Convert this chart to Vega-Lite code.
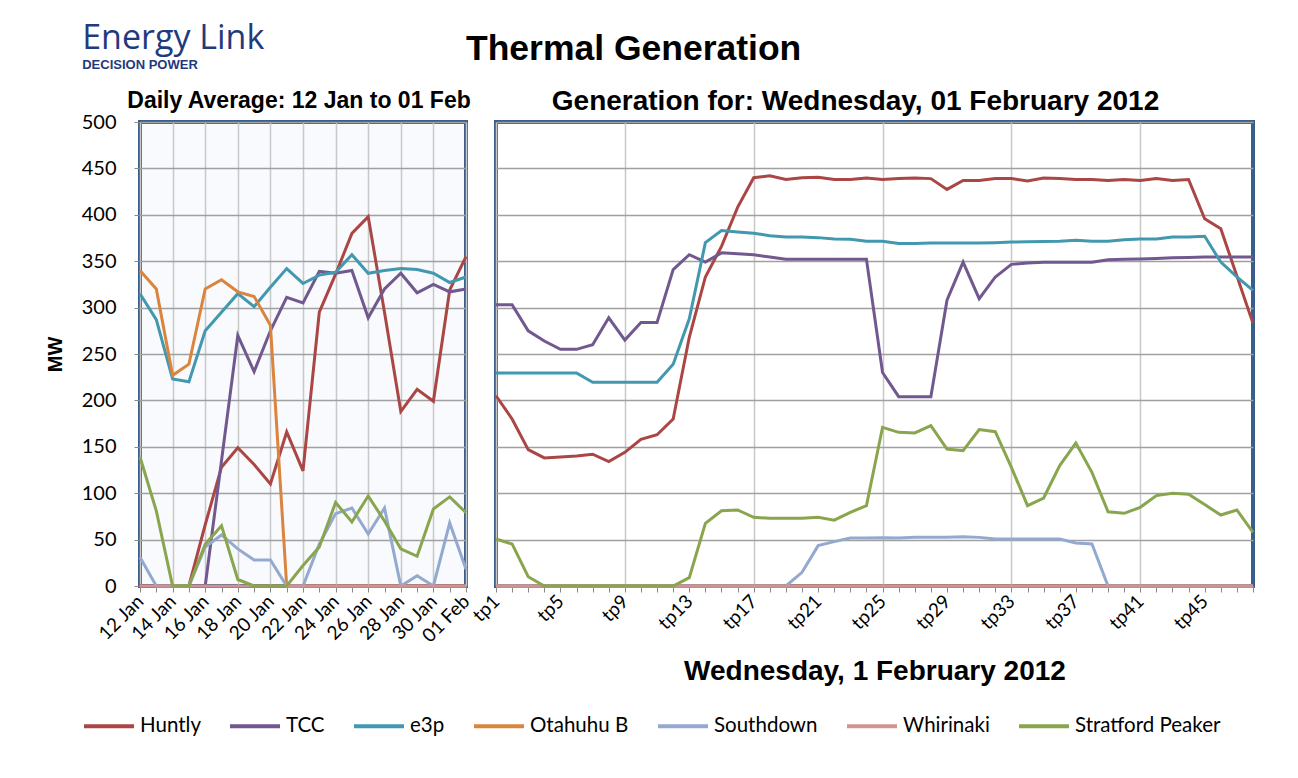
{
  "$schema": "https://vega.github.io/schema/vega-lite/v6.json",
  "background": "white",
  "padding": {"left": 43, "top": 21, "right": 30, "bottom": 10},
  "datasets": {
    "daily": [
      {"day": "12 Jan", "Huntly": 0, "TCC": 0, "e3p": 315, "Otahuhu B": 340, "Southdown": 31, "Whirinaki": 0, "Stratford Peaker": 139},
      {"day": "13 Jan", "Huntly": 0, "TCC": 0, "e3p": 287, "Otahuhu B": 320, "Southdown": 0, "Whirinaki": 0, "Stratford Peaker": 81},
      {"day": "14 Jan", "Huntly": 0, "TCC": 0, "e3p": 223, "Otahuhu B": 227, "Southdown": 0, "Whirinaki": 0, "Stratford Peaker": 0},
      {"day": "15 Jan", "Huntly": 0, "TCC": 0, "e3p": 220, "Otahuhu B": 239, "Southdown": 0, "Whirinaki": 0, "Stratford Peaker": 0},
      {"day": "16 Jan", "Huntly": 66, "TCC": 0, "e3p": 275, "Otahuhu B": 320, "Southdown": 42, "Whirinaki": 0, "Stratford Peaker": 45},
      {"day": "17 Jan", "Huntly": 128, "TCC": 135, "e3p": 295, "Otahuhu B": 330, "Southdown": 55, "Whirinaki": 0, "Stratford Peaker": 65},
      {"day": "18 Jan", "Huntly": 149, "TCC": 270, "e3p": 315, "Otahuhu B": 317, "Southdown": 40, "Whirinaki": 0, "Stratford Peaker": 7},
      {"day": "19 Jan", "Huntly": 131, "TCC": 231, "e3p": 301, "Otahuhu B": 312, "Southdown": 28, "Whirinaki": 0, "Stratford Peaker": 0},
      {"day": "20 Jan", "Huntly": 110, "TCC": 275, "e3p": 322, "Otahuhu B": 281, "Southdown": 28, "Whirinaki": 0, "Stratford Peaker": 0},
      {"day": "21 Jan", "Huntly": 166, "TCC": 311, "e3p": 342, "Otahuhu B": 0, "Southdown": 0, "Whirinaki": 0, "Stratford Peaker": 0},
      {"day": "22 Jan", "Huntly": 124, "TCC": 305, "e3p": 326, "Otahuhu B": 0, "Southdown": 0, "Whirinaki": 0, "Stratford Peaker": 22},
      {"day": "23 Jan", "Huntly": 295, "TCC": 339, "e3p": 335, "Otahuhu B": 0, "Southdown": 45, "Whirinaki": 0, "Stratford Peaker": 42},
      {"day": "24 Jan", "Huntly": 336, "TCC": 337, "e3p": 338, "Otahuhu B": 0, "Southdown": 78, "Whirinaki": 0, "Stratford Peaker": 90},
      {"day": "25 Jan", "Huntly": 380, "TCC": 340, "e3p": 357, "Otahuhu B": 0, "Southdown": 84, "Whirinaki": 0, "Stratford Peaker": 69},
      {"day": "26 Jan", "Huntly": 398, "TCC": 289, "e3p": 337, "Otahuhu B": 0, "Southdown": 56, "Whirinaki": 0, "Stratford Peaker": 97},
      {"day": "27 Jan", "Huntly": 295, "TCC": 320, "e3p": 340, "Otahuhu B": 0, "Southdown": 84, "Whirinaki": 0, "Stratford Peaker": 70},
      {"day": "28 Jan", "Huntly": 188, "TCC": 337, "e3p": 342, "Otahuhu B": 0, "Southdown": 0, "Whirinaki": 0, "Stratford Peaker": 40},
      {"day": "29 Jan", "Huntly": 212, "TCC": 316, "e3p": 341, "Otahuhu B": 0, "Southdown": 11, "Whirinaki": 0, "Stratford Peaker": 32},
      {"day": "30 Jan", "Huntly": 199, "TCC": 325, "e3p": 337, "Otahuhu B": 0, "Southdown": 0, "Whirinaki": 0, "Stratford Peaker": 83},
      {"day": "31 Jan", "Huntly": 319, "TCC": 317, "e3p": 327, "Otahuhu B": 0, "Southdown": 68, "Whirinaki": 0, "Stratford Peaker": 96},
      {"day": "01 Feb", "Huntly": 355, "TCC": 320, "e3p": 333, "Otahuhu B": 0, "Southdown": 18, "Whirinaki": 0, "Stratford Peaker": 79}
    ],
    "halfhour": [
      {"tp": 1, "Huntly": 205, "TCC": 303, "e3p": 229.5, "Otahuhu B": 0, "Southdown": 0, "Whirinaki": 0, "Stratford Peaker": 50.6},
      {"tp": 2, "Huntly": 180, "TCC": 303, "e3p": 229.5, "Otahuhu B": 0, "Southdown": 0, "Whirinaki": 0, "Stratford Peaker": 45.3},
      {"tp": 3, "Huntly": 147, "TCC": 275, "e3p": 229.5, "Otahuhu B": 0, "Southdown": 0, "Whirinaki": 0, "Stratford Peaker": 10},
      {"tp": 4, "Huntly": 138, "TCC": 264, "e3p": 229.5, "Otahuhu B": 0, "Southdown": 0, "Whirinaki": 0, "Stratford Peaker": 0},
      {"tp": 5, "Huntly": 139, "TCC": 255, "e3p": 229.5, "Otahuhu B": 0, "Southdown": 0, "Whirinaki": 0, "Stratford Peaker": 0},
      {"tp": 6, "Huntly": 140, "TCC": 255, "e3p": 229.5, "Otahuhu B": 0, "Southdown": 0, "Whirinaki": 0, "Stratford Peaker": 0},
      {"tp": 7, "Huntly": 142, "TCC": 260, "e3p": 219.5, "Otahuhu B": 0, "Southdown": 0, "Whirinaki": 0, "Stratford Peaker": 0},
      {"tp": 8, "Huntly": 134, "TCC": 289, "e3p": 219.5, "Otahuhu B": 0, "Southdown": 0, "Whirinaki": 0, "Stratford Peaker": 0},
      {"tp": 9, "Huntly": 144, "TCC": 265, "e3p": 219.5, "Otahuhu B": 0, "Southdown": 0, "Whirinaki": 0, "Stratford Peaker": 0},
      {"tp": 10, "Huntly": 158, "TCC": 284, "e3p": 219.5, "Otahuhu B": 0, "Southdown": 0, "Whirinaki": 0, "Stratford Peaker": 0},
      {"tp": 11, "Huntly": 163, "TCC": 284, "e3p": 219.5, "Otahuhu B": 0, "Southdown": 0, "Whirinaki": 0, "Stratford Peaker": 0},
      {"tp": 12, "Huntly": 180, "TCC": 341, "e3p": 239, "Otahuhu B": 0, "Southdown": 0, "Whirinaki": 0, "Stratford Peaker": 0},
      {"tp": 13, "Huntly": 268, "TCC": 357, "e3p": 288, "Otahuhu B": 0, "Southdown": 0, "Whirinaki": 0, "Stratford Peaker": 9},
      {"tp": 14, "Huntly": 333, "TCC": 349, "e3p": 370, "Otahuhu B": 0, "Southdown": 0, "Whirinaki": 0, "Stratford Peaker": 67.5},
      {"tp": 15, "Huntly": 366, "TCC": 359, "e3p": 383, "Otahuhu B": 0, "Southdown": 0, "Whirinaki": 0, "Stratford Peaker": 81},
      {"tp": 16, "Huntly": 408, "TCC": 358, "e3p": 381.5, "Otahuhu B": 0, "Southdown": 0, "Whirinaki": 0, "Stratford Peaker": 82},
      {"tp": 17, "Huntly": 440, "TCC": 357, "e3p": 380, "Otahuhu B": 0, "Southdown": 0, "Whirinaki": 0, "Stratford Peaker": 74},
      {"tp": 18, "Huntly": 442, "TCC": 354.5, "e3p": 377.5, "Otahuhu B": 0, "Southdown": 0, "Whirinaki": 0, "Stratford Peaker": 73},
      {"tp": 19, "Huntly": 438, "TCC": 352, "e3p": 376, "Otahuhu B": 0, "Southdown": 0, "Whirinaki": 0, "Stratford Peaker": 73},
      {"tp": 20, "Huntly": 440, "TCC": 352, "e3p": 376, "Otahuhu B": 0, "Southdown": 14.7, "Whirinaki": 0, "Stratford Peaker": 73},
      {"tp": 21, "Huntly": 440.5, "TCC": 352, "e3p": 375.4, "Otahuhu B": 0, "Southdown": 43.5, "Whirinaki": 0, "Stratford Peaker": 74},
      {"tp": 22, "Huntly": 438, "TCC": 352, "e3p": 374, "Otahuhu B": 0, "Southdown": 47.8, "Whirinaki": 0, "Stratford Peaker": 71},
      {"tp": 23, "Huntly": 438, "TCC": 352, "e3p": 373.6, "Otahuhu B": 0, "Southdown": 51.7, "Whirinaki": 0, "Stratford Peaker": 79.4},
      {"tp": 24, "Huntly": 439.7, "TCC": 352, "e3p": 371.4, "Otahuhu B": 0, "Southdown": 51.7, "Whirinaki": 0, "Stratford Peaker": 86.6},
      {"tp": 25, "Huntly": 438, "TCC": 230, "e3p": 371.6, "Otahuhu B": 0, "Southdown": 52, "Whirinaki": 0, "Stratford Peaker": 171},
      {"tp": 26, "Huntly": 439, "TCC": 204, "e3p": 369, "Otahuhu B": 0, "Southdown": 51.7, "Whirinaki": 0, "Stratford Peaker": 165.6},
      {"tp": 27, "Huntly": 439.7, "TCC": 204, "e3p": 369, "Otahuhu B": 0, "Southdown": 52.4, "Whirinaki": 0, "Stratford Peaker": 165},
      {"tp": 28, "Huntly": 439, "TCC": 204, "e3p": 369.6, "Otahuhu B": 0, "Southdown": 52.4, "Whirinaki": 0, "Stratford Peaker": 172.8},
      {"tp": 29, "Huntly": 427.4, "TCC": 308, "e3p": 369.6, "Otahuhu B": 0, "Southdown": 52.4, "Whirinaki": 0, "Stratford Peaker": 147.6},
      {"tp": 30, "Huntly": 437, "TCC": 349, "e3p": 369.6, "Otahuhu B": 0, "Southdown": 53, "Whirinaki": 0, "Stratford Peaker": 145.8},
      {"tp": 31, "Huntly": 437, "TCC": 309.6, "e3p": 369.6, "Otahuhu B": 0, "Southdown": 52.4, "Whirinaki": 0, "Stratford Peaker": 168.5},
      {"tp": 32, "Huntly": 439, "TCC": 333, "e3p": 370, "Otahuhu B": 0, "Southdown": 50.6, "Whirinaki": 0, "Stratford Peaker": 166.3},
      {"tp": 33, "Huntly": 439, "TCC": 346.6, "e3p": 370.7, "Otahuhu B": 0, "Southdown": 50.6, "Whirinaki": 0, "Stratford Peaker": 127.9},
      {"tp": 34, "Huntly": 436.4, "TCC": 348, "e3p": 371, "Otahuhu B": 0, "Southdown": 50.6, "Whirinaki": 0, "Stratford Peaker": 86.6},
      {"tp": 35, "Huntly": 439.7, "TCC": 349, "e3p": 371.2, "Otahuhu B": 0, "Southdown": 50.6, "Whirinaki": 0, "Stratford Peaker": 94.8},
      {"tp": 36, "Huntly": 439, "TCC": 349, "e3p": 371.4, "Otahuhu B": 0, "Southdown": 50.6, "Whirinaki": 0, "Stratford Peaker": 129.7},
      {"tp": 37, "Huntly": 438, "TCC": 349, "e3p": 372.5, "Otahuhu B": 0, "Southdown": 46.3, "Whirinaki": 0, "Stratford Peaker": 154},
      {"tp": 38, "Huntly": 438, "TCC": 349, "e3p": 371.4, "Otahuhu B": 0, "Southdown": 45.3, "Whirinaki": 0, "Stratford Peaker": 122.5},
      {"tp": 39, "Huntly": 437, "TCC": 351.6, "e3p": 371.4, "Otahuhu B": 0, "Southdown": 0, "Whirinaki": 0, "Stratford Peaker": 80},
      {"tp": 40, "Huntly": 438, "TCC": 352, "e3p": 373, "Otahuhu B": 0, "Southdown": 0, "Whirinaki": 0, "Stratford Peaker": 78.3},
      {"tp": 41, "Huntly": 437, "TCC": 352.4, "e3p": 374, "Otahuhu B": 0, "Southdown": 0, "Whirinaki": 0, "Stratford Peaker": 84.8},
      {"tp": 42, "Huntly": 439, "TCC": 353, "e3p": 374, "Otahuhu B": 0, "Southdown": 0, "Whirinaki": 0, "Stratford Peaker": 97.4},
      {"tp": 43, "Huntly": 437, "TCC": 353.8, "e3p": 376, "Otahuhu B": 0, "Southdown": 0, "Whirinaki": 0, "Stratford Peaker": 100},
      {"tp": 44, "Huntly": 438, "TCC": 354, "e3p": 376, "Otahuhu B": 0, "Southdown": 0, "Whirinaki": 0, "Stratford Peaker": 99},
      {"tp": 45, "Huntly": 395.8, "TCC": 354.5, "e3p": 376.8, "Otahuhu B": 0, "Southdown": 0, "Whirinaki": 0, "Stratford Peaker": 87.7},
      {"tp": 46, "Huntly": 385, "TCC": 354.5, "e3p": 349, "Otahuhu B": 0, "Southdown": 0, "Whirinaki": 0, "Stratford Peaker": 76.5},
      {"tp": 47, "Huntly": 334, "TCC": 354.5, "e3p": 333, "Otahuhu B": 0, "Southdown": 0, "Whirinaki": 0, "Stratford Peaker": 81.9},
      {"tp": 48, "Huntly": 283, "TCC": 354.5, "e3p": 318.6, "Otahuhu B": 0, "Southdown": 0, "Whirinaki": 0, "Stratford Peaker": 57.8}
    ]
  },
  "title": {
    "text": "Energy Link",
    "subtitle": "DECISION POWER",
    "anchor": "start",
    "frame": "bounds",
    "font": "Open Sans",
    "fontSize": 34,
    "fontWeight": "normal",
    "color": "#1F3A7D",
    "subtitleFont": "Liberation Sans",
    "subtitleFontSize": 13,
    "subtitleFontWeight": "bold",
    "subtitleColor": "#1F3A7D",
    "subtitlePadding": 3,
    "dx": 39,
    "offset": -40
  },
  "vconcat": [
    {
      "title": {
        "text": "Thermal Generation",
        "anchor": "middle",
        "frame": "bounds",
        "font": "Liberation Sans",
        "fontSize": 35.5,
        "fontWeight": "bold",
        "color": "black",
        "dx": -19,
        "offset": 19
      },
      "bounds": "flush",
      "spacing": 30,
      "resolve": {"scale": {"color": "shared", "x": "independent", "y": "independent"}, "legend": {"color": "shared"}},
      "hconcat": [
        {
          "width": 326,
          "height": 464,
          "title": {"text": "Daily Average: 12 Jan to 01 Feb", "font": "Liberation Sans", "fontSize": 23, "fontWeight": "bold", "color": "black", "offset": -1, "dx": -4, "anchor": "middle"},
          "view": {"fill": "#F8FAFD", "stroke": "#3A5E8C", "strokeWidth": 4},
          "data": {"name": "daily"},
          "transform": [{"fold": ["Huntly", "TCC", "e3p", "Otahuhu B", "Southdown", "Whirinaki", "Stratford Peaker"], "as": ["station", "mw"]}],
          "mark": {"type": "line", "strokeWidth": 3},
          "encoding": {
            "x": {
              "field": "day",
              "type": "ordinal",
              "scale": {"type": "point", "padding": 0, "domain": ["12 Jan", "13 Jan", "14 Jan", "15 Jan", "16 Jan", "17 Jan", "18 Jan", "19 Jan", "20 Jan", "21 Jan", "22 Jan", "23 Jan", "24 Jan", "25 Jan", "26 Jan", "27 Jan", "28 Jan", "29 Jan", "30 Jan", "31 Jan", "01 Feb"]},
              "axis": {
                "title": null,
                "grid": true,
                "gridColor": {"condition": {"test": "indexof(['12 Jan','14 Jan','16 Jan','18 Jan','20 Jan','22 Jan','24 Jan','26 Jan','28 Jan','30 Jan','01 Feb'], datum.value) >= 0", "value": "#C8C8C8"}, "value": "transparent"},
                "gridWidth": 1.5,
                "labelExpr": "indexof(['12 Jan','14 Jan','16 Jan','18 Jan','20 Jan','22 Jan','24 Jan','26 Jan','28 Jan','30 Jan','01 Feb'], datum.value) >= 0 ? datum.label : ''",
                "labelAngle": -45,
                "labelAlign": "right",
                "labelBaseline": "middle",
                "labelOverlap": false,
                "labelFont": "Lato",
                "labelFontSize": 19,
                "labelColor": "black",
                "labelPadding": 6,
                "tickColor": "#888888",
                "tickSize": 6,
                "domain": false
              }
            },
            "y": {
              "field": "mw",
              "type": "quantitative",
              "scale": {"domain": [0, 500], "nice": false},
              "axis": {
                "values": [0, 50, 100, 150, 200, 250, 300, 350, 400, 450, 500],
                "title": "MW",
                "titleFont": "Liberation Sans",
                "titleFontSize": 20,
                "titleFontWeight": "bold",
                "titleColor": "black",
                "titlePadding": 16,
                "labelFont": "Lato",
                "labelFontSize": 20,
                "labelColor": "black",
                "labelPadding": 18,
                "tickSize": 6,
                "tickColor": "#888888",
                "domain": false,
                "grid": true,
                "gridColor": "#A0A0A0",
                "gridWidth": 1.5
              }
            },
            "color": {
              "field": "station",
              "type": "nominal",
              "scale": {
                "domain": ["Huntly", "TCC", "e3p", "Otahuhu B", "Southdown", "Whirinaki", "Stratford Peaker"],
                "range": ["#AA4643", "#71588F", "#4198AF", "#DB843D", "#93A9CF", "#D19392", "#89A54E"]
              },
              "legend": {
                "title": null,
                "orient": "none",
                "legendX": -58,
                "legendY": 577,
                "direction": "horizontal",
                "symbolType": "stroke",
                "symbolSize": 2500,
                "symbolStrokeWidth": 4,
                "labelFont": "Lato",
                "labelFontSize": 20.5,
                "labelColor": "black",
                "labelOffset": 4,
                "columnPadding": 21
              }
            }
          }
        },
        {
          "width": 757,
          "height": 464,
          "title": {"text": "Generation for: Wednesday, 01 February 2012", "font": "Liberation Sans", "fontSize": 28, "fontWeight": "bold", "color": "black", "offset": 6, "dx": -19, "anchor": "middle"},
          "view": {"fill": "white", "stroke": "#3A5E8C", "strokeWidth": 4},
          "data": {"name": "halfhour"},
          "transform": [{"fold": ["Huntly", "TCC", "e3p", "Otahuhu B", "Southdown", "Whirinaki", "Stratford Peaker"], "as": ["station", "mw"]}],
          "mark": {"type": "line", "strokeWidth": 3},
          "encoding": {
            "x": {
              "field": "tp",
              "type": "quantitative",
              "scale": {"domain": [1, 48], "nice": false, "zero": false},
              "axis": {
                "values": [1, 2, 3, 4, 5, 6, 7, 8, 9, 10, 11, 12, 13, 14, 15, 16, 17, 18, 19, 20, 21, 22, 23, 24, 25, 26, 27, 28, 29, 30, 31, 32, 33, 34, 35, 36, 37, 38, 39, 40, 41, 42, 43, 44, 45, 46, 47, 48],
                "labelExpr": "(datum.value - 1) % 4 == 0 ? 'tp' + datum.value : ''",
                "grid": true,
                "gridColor": {"condition": {"test": "(datum.value - 1) % 8 == 0", "value": "#C8C8C8"}, "value": "transparent"},
                "gridWidth": 1.5,
                "labelAngle": -45,
                "labelAlign": "right",
                "labelBaseline": "middle",
                "labelOverlap": false,
                "labelFont": "Lato",
                "labelFontSize": 19,
                "labelColor": "black",
                "labelPadding": 6,
                "labelFlush": false,
                "tickColor": "#888888",
                "tickSize": 6,
                "domain": false,
                "title": "Wednesday, 1 February 2012",
                "titleFont": "Liberation Sans",
                "titleFontSize": 28,
                "titleFontWeight": "bold",
                "titleColor": "black",
                "titlePadding": 24
              }
            },
            "y": {
              "field": "mw",
              "type": "quantitative",
              "scale": {"domain": [0, 500], "nice": false},
              "axis": {
                "values": [0, 50, 100, 150, 200, 250, 300, 350, 400, 450, 500],
                "title": null,
                "labels": false,
                "ticks": false,
                "domain": false,
                "grid": true,
                "gridColor": "#A0A0A0",
                "gridWidth": 1.5
              }
            },
            "color": {
              "field": "station",
              "type": "nominal",
              "scale": {
                "domain": ["Huntly", "TCC", "e3p", "Otahuhu B", "Southdown", "Whirinaki", "Stratford Peaker"],
                "range": ["#AA4643", "#71588F", "#4198AF", "#DB843D", "#93A9CF", "#D19392", "#89A54E"]
              }
            }
          }
        }
      ]
    }
  ],
  "resolve": {"scale": {"color": "shared"}, "legend": {"color": "shared"}}
}
